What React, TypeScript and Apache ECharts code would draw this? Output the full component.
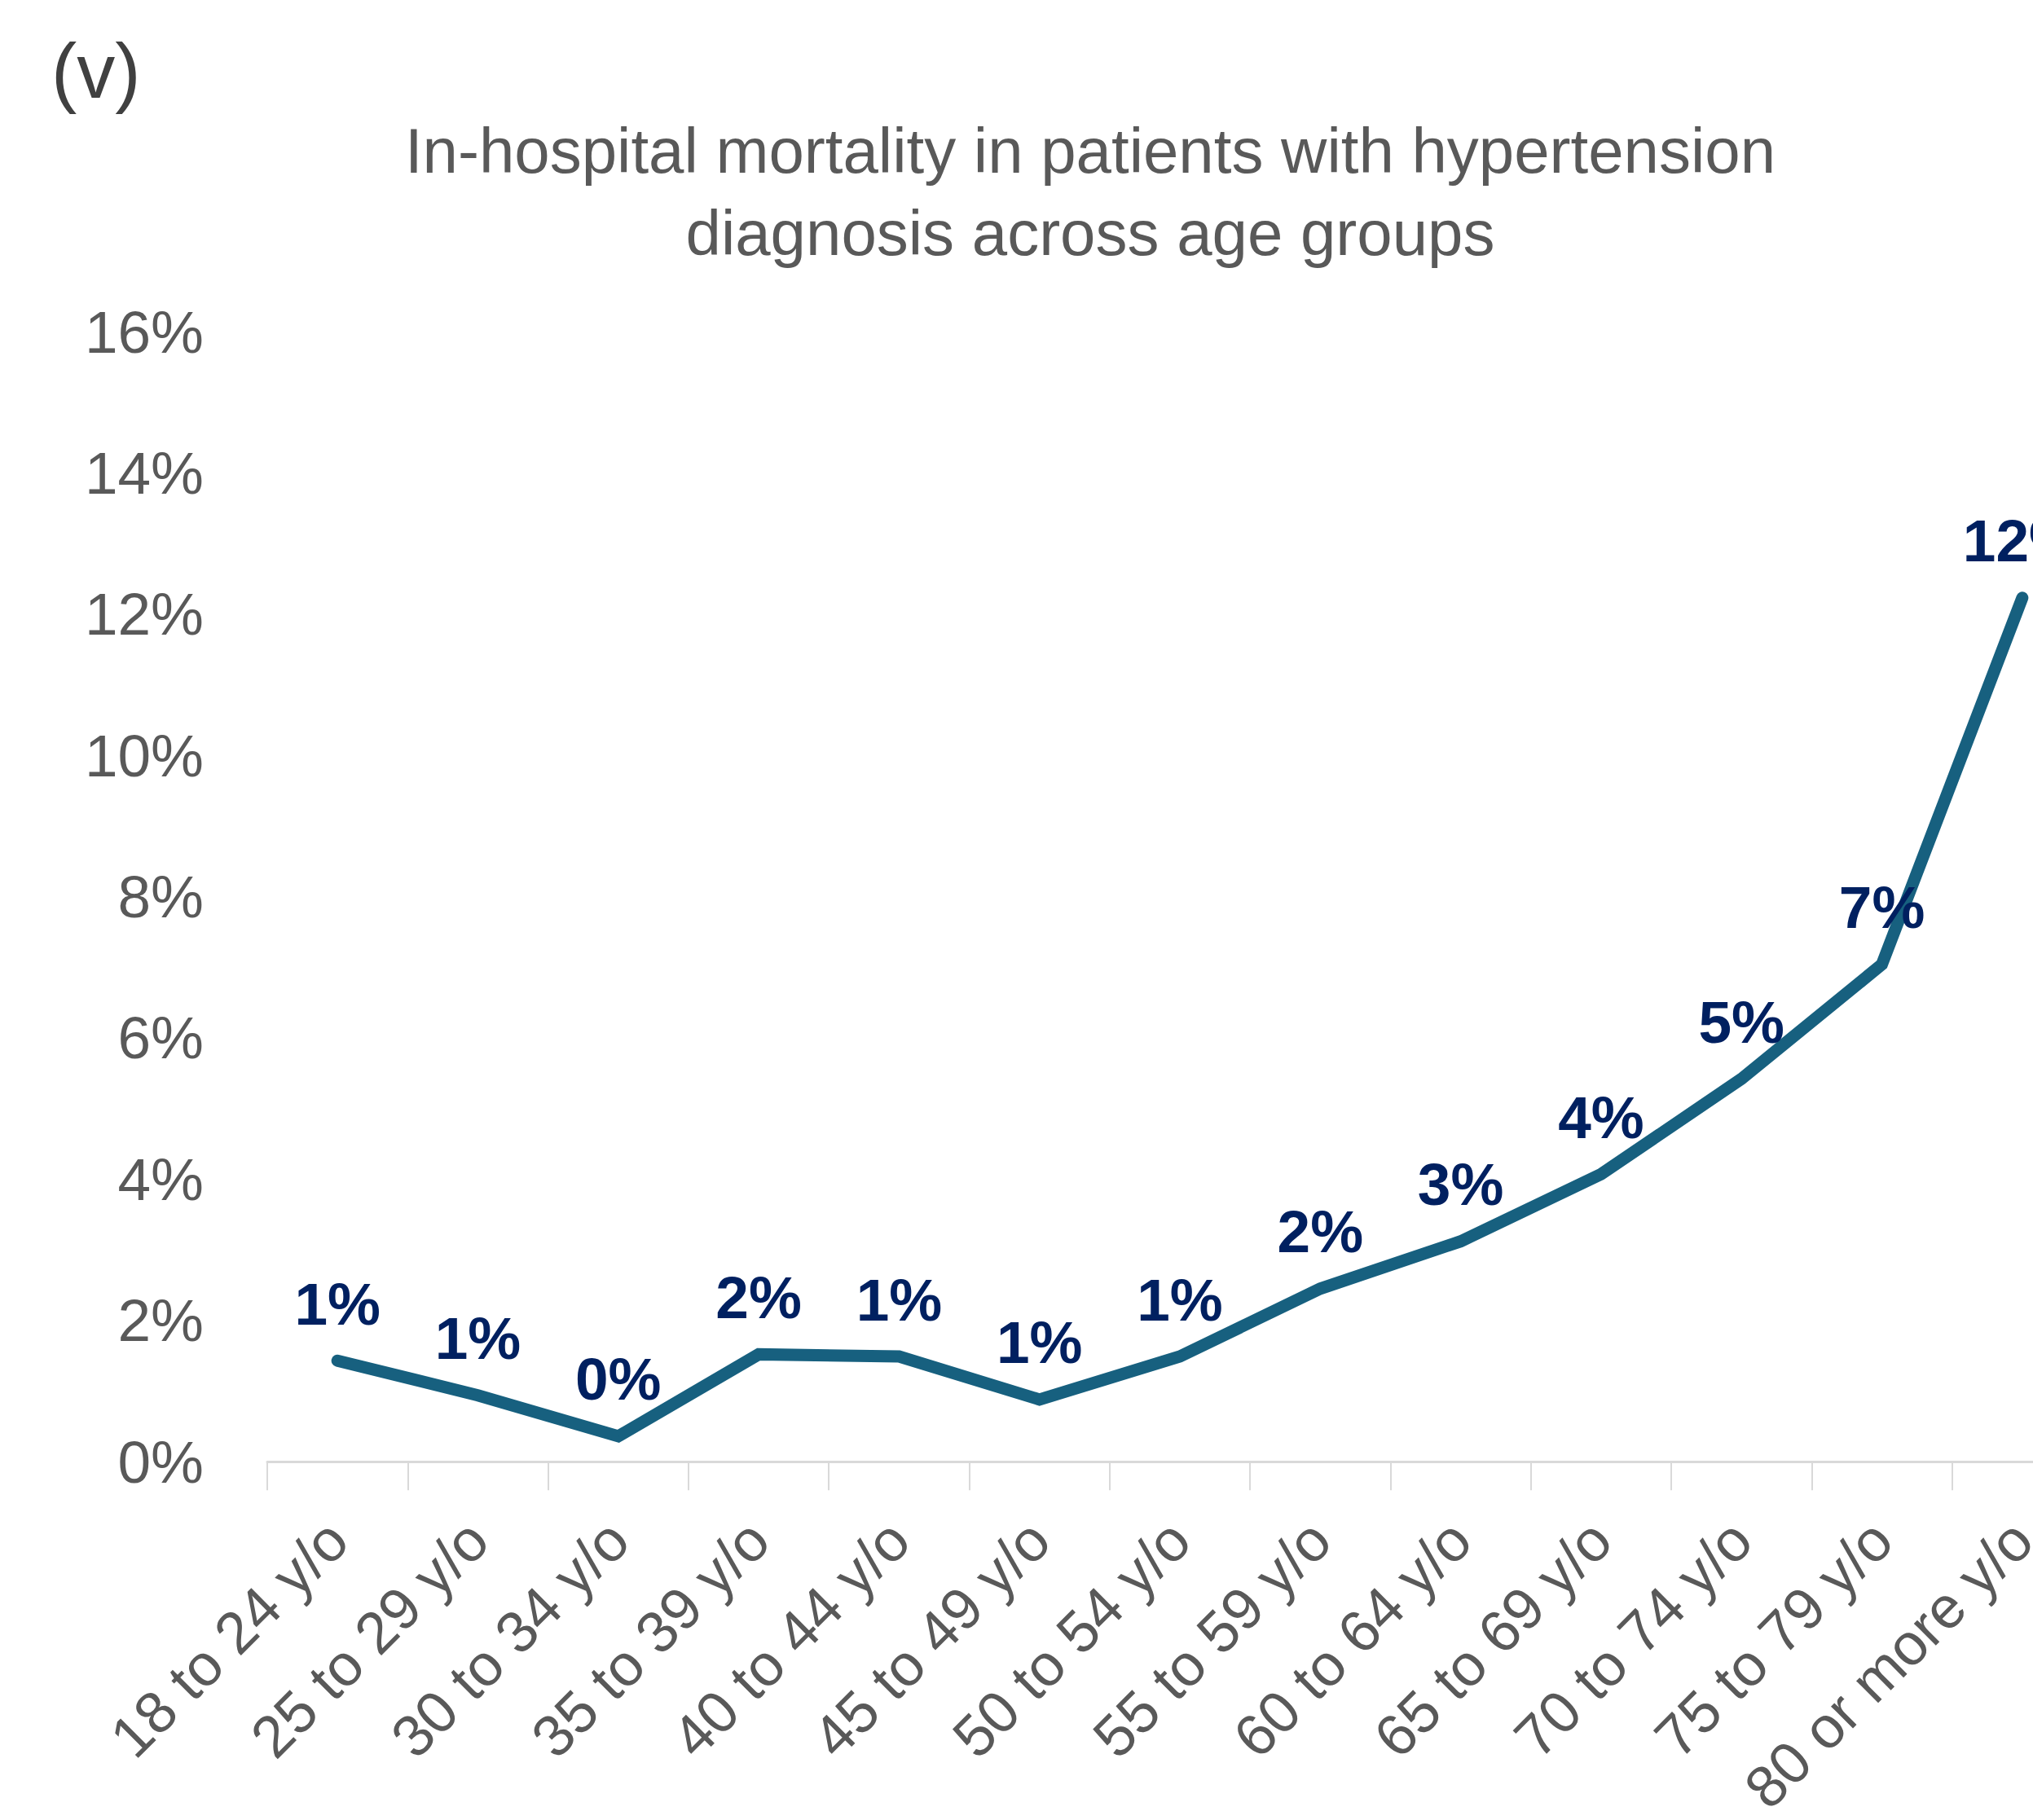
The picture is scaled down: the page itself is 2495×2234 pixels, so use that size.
import React, { useEffect, useRef } from "react";
import * as echarts from "echarts";

const categories = [
  "18 to 24 y/o",
  "25 to 29 y/o",
  "30 to 34 y/o",
  "35 to 39 y/o",
  "40 to 44 y/o",
  "45 to 49 y/o",
  "50 to 54 y/o",
  "55 to 59 y/o",
  "60 to 64 y/o",
  "65 to 69 y/o",
  "70 to 74 y/o",
  "75 to 79 y/o",
  "80 or more y/o",
];

const mortality = [1.43, 0.94, 0.36, 1.52, 1.49, 0.88, 1.49, 2.45, 3.12, 4.07, 5.42, 7.04, 12.23];

const titleLines = [
  "In-hospital mortality in patients with hypertension",
  "diagnosis across age groups",
];
const panelTag = "(v)";

const W = 2495;
const H = 2234;
// the original plot area runs past the right edge of the picture
const CHART_W = 2568;

export default function App() {
  const ref = useRef<HTMLDivElement>(null);
  useEffect(() => {
    if (!ref.current) return;
    const chart = echarts.init(ref.current, undefined, { renderer: "svg" });
    const font = "'Liberation Sans', Arial, sans-serif";
    chart.setOption({
      animation: false,
      backgroundColor: "#ffffff",
      textStyle: { fontFamily: font },
      graphic: [
        {
          type: "text",
          left: 63,
          top: 40,
          style: { text: panelTag, fontSize: 94, fill: "#404040", fontFamily: font },
        },
        {
          type: "text",
          x: 1338,
          y: 185,
          style: {
            text: titleLines[0],
            fontSize: 78,
            fill: "#595959",
            fontFamily: font,
            align: "center",
            verticalAlign: "middle",
          },
        },
        {
          type: "text",
          x: 1338,
          y: 286,
          style: {
            text: titleLines[1],
            fontSize: 78,
            fill: "#595959",
            fontFamily: font,
            align: "center",
            verticalAlign: "middle",
          },
        },
      ],
      grid: { left: 328, right: 0, top: 407, bottom: 439, containLabel: false },
      xAxis: {
        type: "category",
        data: categories,
        boundaryGap: true,
        axisLine: { show: true, lineStyle: { color: "#d9d9d9", width: 3 } },
        axisTick: { show: true, length: 35, lineStyle: { color: "#d9d9d9", width: 2 } },
        axisLabel: {
          rotate: 45,
          margin: 84,
          fontSize: 72,
          color: "#595959",
          fontFamily: font,
          interval: 0,
        },
        splitLine: { show: false },
      },
      yAxis: {
        type: "value",
        min: 0,
        max: 16,
        interval: 2,
        axisLine: { show: false },
        axisTick: { show: false },
        splitLine: { show: false },
        axisLabel: {
          formatter: (v: number) => `${v}%`,
          fontSize: 73,
          color: "#595959",
          margin: 78,
          fontFamily: font,
        },
      },
      series: [
        {
          type: "line",
          data: mortality,
          symbol: "circle",
          symbolSize: 1,
          itemStyle: { color: "#17607f" },
          lineStyle: { color: "#17607f", width: 15, cap: "round", join: "miter" },
          label: {
            show: true,
            position: "top",
            distance: 33,
            formatter: (p: any) => `${Math.round(p.value)}%`,
            fontSize: 73,
            fontWeight: "bold",
            color: "#002060",
            fontFamily: font,
          },
        },
      ],
    });
    return () => chart.dispose();
  }, []);
  return (
    <div
      style={{ position: "absolute", left: 0, top: 0, width: W, height: H, overflow: "hidden", background: "#fff" }}
    >
      <div ref={ref} style={{ width: CHART_W, height: H }} />
    </div>
  );
}
